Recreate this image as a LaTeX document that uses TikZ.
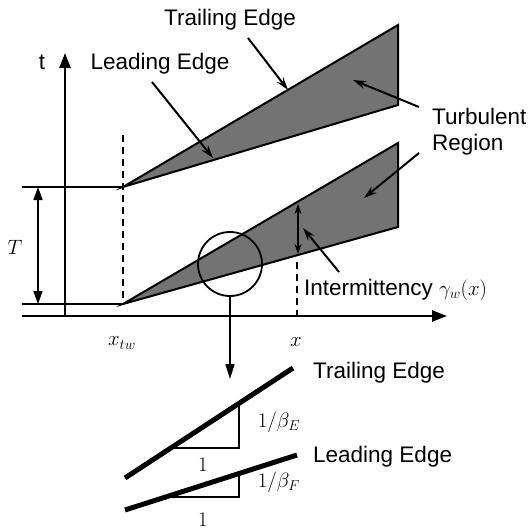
\documentclass[tikz,border=0pt]{standalone}
\usepackage{fontspec}
\setmainfont{Liberation Sans}
\usetikzlibrary{arrows.meta}
\begin{document}
\begin{tikzpicture}[x=1pt,y=-1pt,
  lbl/.style={font=\fontsize{22.5}{26}\selectfont, inner sep=0pt},
  mth/.style={font=\fontsize{22}{26}\selectfont, inner sep=0pt},
  axisline/.style={line width=2.4pt},
  guide/.style={line width=1.6pt},
  dashline/.style={line width=2pt, dash pattern=on 7pt off 5pt},
  wedge/.style={draw, line width=2pt, fill=black!55, line join=miter},
  ptr/.style={line width=2pt, -{Stealth[length=13pt,width=8pt]}},
  bigtip/.style={-{Triangle[length=15pt,width=11pt]}},
  slopeline/.style={line width=5pt},
  tri/.style={line width=2pt},
]
\useasboundingbox (0,0) rectangle (531,530);

% key points
\coordinate (O) at (65,316);
\coordinate (tTop) at (65,53);
\coordinate (xEnd) at (447,316);
\coordinate (axL) at (22,316);
\coordinate (A1) at (123,187);
\coordinate (A2) at (123,304);
\coordinate (U1) at (398,25);
\coordinate (U2) at (398,105);
\coordinate (L1) at (398,143);
\coordinate (L2) at (398,227);
\coordinate (h1) at (22,187);
\coordinate (h2) at (22,304);
\coordinate (T1) at (38,187);
\coordinate (T2) at (38,304);
\coordinate (d1) at (123,135);
\coordinate (d2) at (297,262);
\coordinate (d2b) at (297,316);
\coordinate (g1) at (298,254);
\coordinate (g2) at (298,204);

% wedges
\filldraw[wedge] (A1) -- (U1) -- (U2) -- cycle;
\filldraw[wedge] (A2) -- (L1) -- (L2) -- cycle;

% axes
\draw[axisline,bigtip] (O) -- (tTop);
\draw[axisline,bigtip] (axL) -- (xEnd);
\draw[guide] (h1) -- (A1);
\draw[guide] (h2) -- (A2);
\draw[guide,{Triangle[length=13pt,width=9pt]}-{Triangle[length=13pt,width=9pt]}] (T1) -- (T2);
\draw[dashline] (d1) -- (A2);
\draw[dashline] (d2) -- (d2b);
\draw[line width=2pt,{Stealth[length=10pt,width=7pt]}-{Stealth[length=10pt,width=7pt]}] (g1) -- (g2);

% magnifier circle
\node[circle, draw, line width=1.8pt, minimum size=64pt, inner sep=0pt] (mag) at (230,264) {};
\coordinate (magEnd) at (230,379);
\draw[line width=1.6pt,-{Triangle[length=15pt,width=9pt]}] (mag.south) -- (magEnd);

% labels
\node[lbl] (tlab) at (42,62) {t};
\node[mth] (Tlab) at (15,247) {$T$};
\node[mth] (xtw) at (122,343) {$x_{tw}$};
\node[mth] (xlab) at (296,342) {$x$};

\node[lbl] (teTop) at (230,20) {Trailing Edge};
\node[lbl] (leTop) at (160,64) {Leading Edge};
\node[lbl, anchor=west, align=left] (turb) at (432,132) {Turbulent\\Region};
\node[lbl, anchor=west] (inter) at (304,290) {Intermittency \fontsize{22}{26}\selectfont$\gamma_w(x)$};

% pointers
\coordinate (teS) at (248,38);  \coordinate (teE) at (288,90);
\coordinate (leS) at (152,82);  \coordinate (leE) at (213,158);
\coordinate (tuS1) at (419,107); \coordinate (tuE1) at (353,80);
\coordinate (tuS2) at (419,153); \coordinate (tuE2) at (364,198);
\coordinate (inS) at (339,272); \coordinate (inE) at (303,228);
\draw[ptr] (teS) -- (teE);
\draw[ptr] (leS) -- (leE);
\draw[ptr] (tuS1) -- (tuE1);
\draw[ptr] (tuS2) -- (tuE2);
\draw[ptr] (inS) -- (inE);

% inset
\coordinate (s1a) at (125,478); \coordinate (s1b) at (293,368);
\coordinate (s2a) at (125,510); \coordinate (s2b) at (297,455);
\draw[slopeline] (s1a) -- (s1b);
\draw[slopeline] (s2a) -- (s2b);
\coordinate (r1a) at (172,448); \coordinate (r1b) at (239,448); \coordinate (r1c) at (239,404);
\coordinate (r2a) at (166,497); \coordinate (r2b) at (239,497); \coordinate (r2c) at (239,474);
\draw[tri] (r1a) -- (r1b) -- (r1c);
\draw[tri] (r2a) -- (r2b) -- (r2c);
\node[mth] (one1) at (203,465) {$1$};
\node[mth] (one2) at (203,520) {$1$};
\node[mth] (bE) at (279,422) {$1/\beta_E$};
\node[mth] (bF) at (279,482) {$1/\beta_F$};
\node[lbl, anchor=west] (teB) at (313,373) {Trailing Edge};
\node[lbl, anchor=west] (leB) at (313,457) {Leading Edge};
\end{tikzpicture}
\end{document}
